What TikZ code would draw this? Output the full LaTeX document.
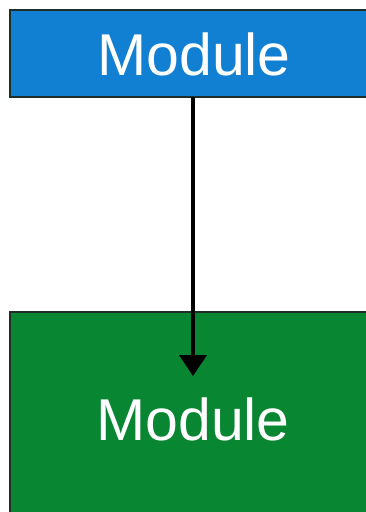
\documentclass[tikz,border=0pt]{standalone}
\usepackage{fontspec}
\setmainfont{Liberation Sans}
\usetikzlibrary{arrows.meta}
\definecolor{modblue}{RGB}{18,128,210}
\definecolor{modgreen}{RGB}{8,134,50}
\definecolor{edgedark}{RGB}{30,45,40}
\begin{document}
\begin{tikzpicture}[x=1pt,y=1pt,
  modbox/.style={draw=edgedark,line width=1.5pt},
  modlabel/.style={text=white,font=\fontsize{59}{64}\selectfont,anchor=base,inner sep=0pt}]
\useasboundingbox (0,0) rectangle (366,-512);
\begin{scope}
\clip (0,0) rectangle (366,-512);
% upper module
\path[modbox,fill=modblue] (10,-10) rectangle (380,-97);
\coordinate (topbot) at (193,-97);
\node[modlabel] (top) at (194,-75) {Module};
% lower module
\path[modbox,fill=modgreen] (10,-312) rectangle (380,-530);
\coordinate (tip) at (193,-376);
\node[modlabel] (bottom) at (193,-440) {Module};
% connector
\draw[line width=4pt,-{Triangle[width=27pt,length=21pt]}] (topbot) -- (tip);
\end{scope}
\end{tikzpicture}
\end{document}
